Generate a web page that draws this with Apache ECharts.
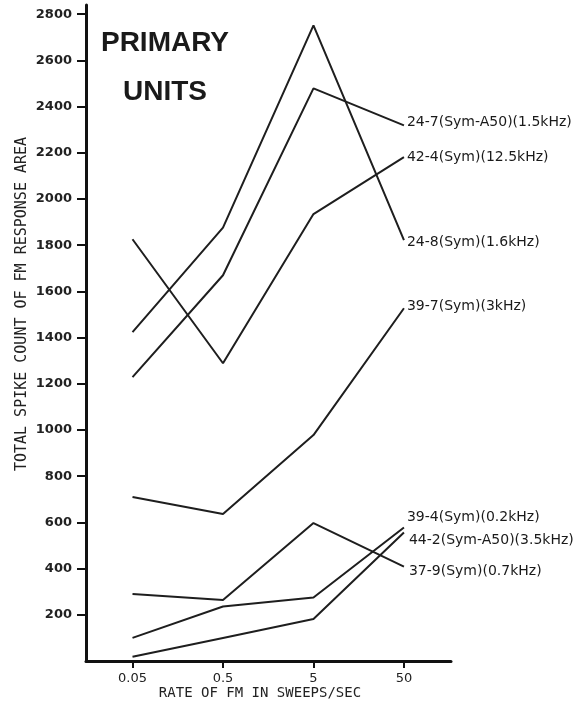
<!DOCTYPE html>
<html>
<head>
<meta charset="utf-8">
<script src="https://cdn.jsdelivr.net/npm/echarts@6/dist/echarts.min.js"></script>
<style>
html,body{margin:0;padding:0;background:#fff;}
#chart{width:587px;height:707px;}
</style>
</head>
<body>
<div id="chart"></div>
<script>
// Rates of FM (sweeps/sec), shown at equal (log) spacing
var rateLabels = ['0.05', '0.5', '5', '50'];
var yTickValues = [200, 400, 600, 800, 1000, 1200, 1400, 1600, 1800, 2000, 2200, 2400, 2600, 2800];

var seriesNames = [
  '24-7(Sym-A50)(1.5kHz)',
  '42-4(Sym)(12.5kHz)',
  '24-8(Sym)(1.6kHz)',
  '39-7(Sym)(3kHz)',
  '39-4(Sym)(0.2kHz)',
  '44-2(Sym-A50)(3.5kHz)',
  '37-9(Sym)(0.7kHz)'
];
var unit24_7 = [1229, 1670, 2479, 2319];
var unit42_4 = [1826, 1289, 1935, 2181];
var unit24_8 = [1424, 1876, 2752, 1822];
var unit39_7 = [710, 636, 978, 1527];
var unit39_4 = [100, 236, 275, 578];
var unit44_2 = [18, 100, 182, 556];
var unit37_9 = [290, 264, 597, 409];

var seriesValues = [unit24_7, unit42_4, unit24_8, unit39_7, unit39_4, unit44_2, unit37_9];
var labelOffsets = [[0, -3], [0, 0], [0, 2], [0, -2], [0, -10], [2, 8], [2, 5]];

var chart = echarts.init(document.getElementById('chart'), null, {renderer: 'canvas'});

var series = seriesValues.map(function (vals, k) {
  return {
    name: seriesNames[k],
    type: 'line',
    symbol: 'none',
    silent: true,
    data: vals.map(function (v, i) { return [i, v]; }),
    lineStyle: {color: '#1e1e1e', width: 2},
    endLabel: {
      show: true,
      formatter: seriesNames[k],
      distance: 3,
      offset: labelOffsets[k],
      color: '#1a1a1a',
      fontSize: 14,
      fontFamily: 'DejaVu Sans'
    }
  };
});

chart.setOption({
  backgroundColor: '#fff',
  animation: false,
  grid: {left: 86, right: 136, top: 5, bottom: 46, containLabel: false},
  xAxis: {
    type: 'value',
    min: -0.514,
    max: 3.52,
    axisLine: {show: true, onZero: false, lineStyle: {color: '#111', width: 3}},
    axisTick: {show: true, customValues: [0, 1, 2, 3], length: 7, lineStyle: {color: '#111', width: 2}},
    axisLabel: {
      customValues: [0, 1, 2, 3],
      formatter: function (v) { return rateLabels[Math.round(v)]; },
      margin: 11, color: '#222', fontSize: 13, fontFamily: 'DejaVu Sans'
    },
    splitLine: {show: false}
  },
  yAxis: {
    type: 'value',
    min: 0,
    max: 2840,
    axisLine: {show: true, onZero: false, lineStyle: {color: '#111', width: 3}},
    axisTick: {show: true, customValues: yTickValues, length: 9, lineStyle: {color: '#111', width: 2}},
    axisLabel: {
      customValues: yTickValues,
      formatter: function (v) { return String(v); },
      margin: 14, color: '#222', fontSize: 13, fontWeight: 'bold', fontFamily: 'DejaVu Sans'
    },
    splitLine: {show: false}
  },
  graphic: [
    {type: 'text', x: 165, y: 43, style: {text: 'PRIMARY', align: 'center', verticalAlign: 'middle', font: 'bold 28px "Liberation Sans"', fill: '#1a1a1a'}},
    {type: 'text', x: 165, y: 92, style: {text: 'UNITS', align: 'center', verticalAlign: 'middle', font: 'bold 28px "Liberation Sans"', fill: '#1a1a1a'}},
    {type: 'text', x: 22, y: 304, rotation: Math.PI / 2, style: {text: 'TOTAL SPIKE COUNT OF FM RESPONSE AREA', align: 'center', verticalAlign: 'middle', font: '15px "DejaVu Sans Mono"', fill: '#222'}},
    {type: 'text', x: 260, y: 693, style: {text: 'RATE OF FM IN SWEEPS/SEC', align: 'center', verticalAlign: 'middle', font: '14px "DejaVu Sans Mono"', fill: '#222'}}
  ],
  series: series
});
</script>
</body>
</html>
